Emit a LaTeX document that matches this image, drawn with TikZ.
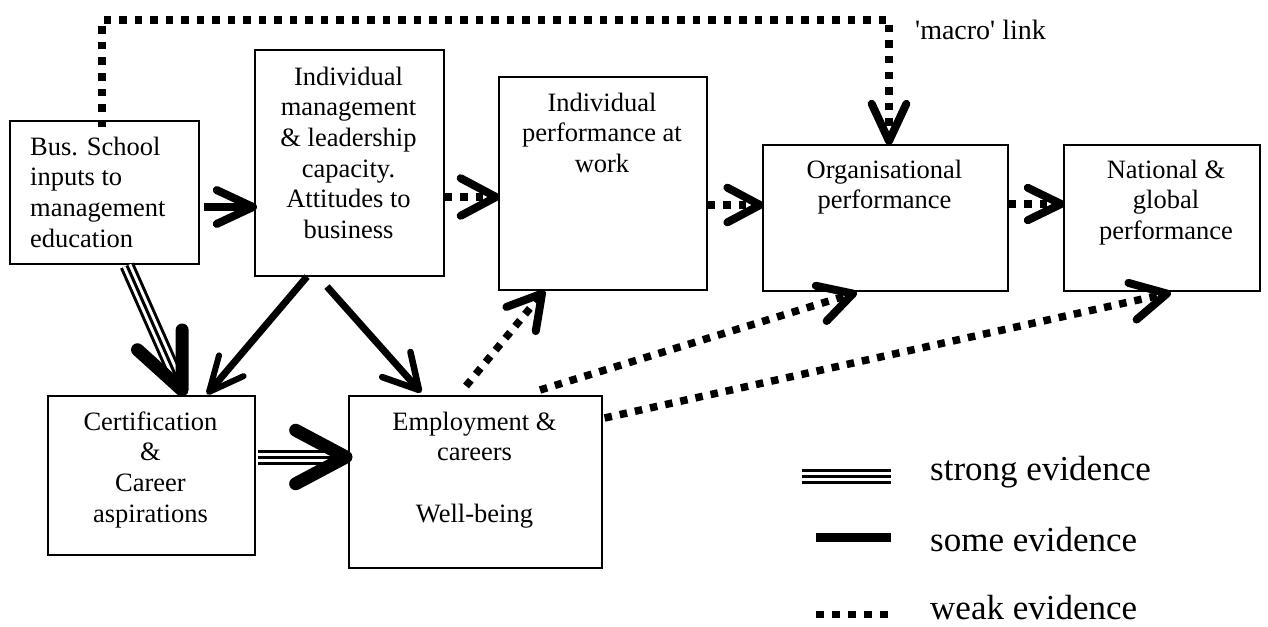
\documentclass[tikz,border=0pt]{standalone}
\usepackage{fontspec}
\setmainfont{Liberation Serif}
\usetikzlibrary{calc}

\newcommand{\boxfont}{\fontsize{26.5}{30.7}\selectfont}
\newcommand{\legfont}{\fontsize{35}{40}\selectfont}
\newcommand{\notefont}{\fontsize{28}{32}\selectfont}

% open V arrowhead: tip, point it comes from, arm length, half angle, stroke
\newcommand{\vhead}[5]{%
  \draw[line width=#5, line cap=round, line join=round]
    ($(#1)!#3!#4:(#2)$) -- (#1) -- ($(#1)!#3!-#4:(#2)$);}

% strong evidence: three parallel lines
\newcommand{\triple}[2]{%
  \draw[line width=15pt] (#1) -- (#2);
  \draw[white, line width=9pt] (#1) -- (#2);
  \draw[line width=3pt] (#1) -- (#2);}

\tikzset{
  box/.style={draw, line width=1.6pt, rectangle, inner sep=0pt, anchor=north west},
  boxtext/.style={font=\boxfont, align=center, inner sep=0pt, anchor=north},
  legtext/.style={font=\legfont, inner sep=0pt, anchor=base west},
  weak/.style={line width=7.5pt, dash pattern=on 7.5pt off 8pt},
  some/.style={line width=8pt},
  somethin/.style={line width=7pt},
}

\begin{document}
\begin{tikzpicture}[x=1pt, y=-1pt]
\useasboundingbox (0,0) rectangle (1268,626);

% boxes
\node[box, minimum width=189pt, minimum height=143pt] (A) at (9,120) {};
\node[box, minimum width=189pt, minimum height=226pt] (B) at (254,49) {};
\node[box, minimum width=208pt, minimum height=213pt] (C) at (498,76) {};
\node[box, minimum width=245pt, minimum height=146pt] (D) at (762,144) {};
\node[box, minimum width=196pt, minimum height=146pt] (E) at (1063,144) {};
\node[box, minimum width=207pt, minimum height=159pt] (F) at (47,395) {};
\node[box, minimum width=253pt, minimum height=172pt] (G) at (348,395) {};

% box texts
\node[boxtext, align=left, anchor=north west] (At) at (30,133.5)
  {\strut Bus. School\\inputs to\\management\\education};
\node[boxtext] (Bt) at (348.5,63.5)
  {\strut Individual\\management\\\& leadership\\capacity.\\Attitudes to\\business};
\node[boxtext] (Ct) at (602,89.5)
  {\strut Individual\\performance at\\work};
\node[boxtext] (Dt) at (884.5,156.5)
  {\strut Organisational\\performance};
\node[boxtext] (Et) at (1166,156.5)
  {\strut National \&\\global\\performance};
\node[boxtext] (Ft) at (150.5,408.5)
  {\strut Certification\\\&\\Career\\aspirations};
\node[boxtext] (Gt) at (474.5,408.5)
  {\strut Employment \&\\careers\\\mbox{}\\Well-being};

% connector end points
\coordinate (ab0) at ($(A.north east)+(4,87)$);
\coordinate (ab1) at ($(B.north west)+(-1,158)$);
\coordinate (bc0) at ($(B.north east)+(0,148)$);
\coordinate (bc1) at ($(C.north west)+(-2,121)$);
\coordinate (cd0) at ($(C.north east)+(0,129)$);
\coordinate (cd1) at ($(D.north west)+(-2,61)$);
\coordinate (de0) at ($(D.north east)+(0,60)$);
\coordinate (de1) at ($(E.north west)+(-2,60)$);
\coordinate (m0) at ($(A.north west)+(93,7)$);
\coordinate (mc) at ($(D.north west)+(127,-124)$);
\coordinate (m1) at ($(D.north west)+(127,-3)$);
\coordinate (af0) at ($(A.south west)+(118,1)$);
\coordinate (af1) at ($(F.north west)+(135,-5)$);
\coordinate (fg0) at ($(F.north east)+(2,62)$);
\coordinate (fg1) at ($(G.north west)+(-2,62)$);
\coordinate (bf0) at ($(B.south west)+(53,0)$);
\coordinate (bf1) at ($(F.north west)+(162,-3)$);
\coordinate (bg0) at ($(B.south west)+(73,10)$);
\coordinate (bg1) at ($(G.north west)+(71,-5)$);
\coordinate (gc0) at ($(G.north west)+(118,-9)$);
\coordinate (gc1) at ($(C.south west)+(44,3)$);
\coordinate (gd0) at ($(G.north west)+(192,-5)$);
\coordinate (gd1) at ($(D.south west)+(91,2)$);
\coordinate (ge0) at ($(G.north east)+(2,23)$);
\coordinate (ge1) at ($(E.south west)+(104,2)$);

% some evidence
\draw[some] (ab0) -- (ab1);
\vhead{ab1}{ab0}{40pt}{25}{8pt}
\draw[somethin] (bf0) -- (bf1);
\vhead{bf1}{bf0}{38pt}{25}{6pt}
\draw[somethin] (bg0) -- (bg1);
\vhead{bg1}{bg0}{39pt}{29}{6.5pt}

% strong evidence
\triple{af0}{$(af1)!12pt!(af0)$}
\vhead{af1}{af0}{60pt}{24}{13pt}
\triple{fg0}{$(fg1)!12pt!(fg0)$}
\vhead{fg1}{fg0}{57pt}{28}{13pt}

% weak evidence
\draw[weak] (bc0) -- (bc1);
\vhead{bc1}{bc0}{40pt}{28}{8pt}
\draw[weak] (cd0) -- (cd1);
\vhead{cd1}{cd0}{37pt}{28}{8pt}
\draw[weak] (de0) -- (de1);
\vhead{de1}{de0}{37pt}{26}{8pt}
\draw[weak] (m0) |- (mc) -- (m1);
\vhead{m1}{mc}{41pt}{25}{8pt}
\draw[weak] (gc0) -- (gc1);
\vhead{gc1}{gc0}{38pt}{30}{8pt}
\draw[weak] (gd0) -- (gd1);
\vhead{gd1}{gd0}{38pt}{29}{8pt}
\draw[weak] (ge0) -- (ge1);
\vhead{ge1}{ge0}{40pt}{28}{8pt}

\node[font=\notefont, inner sep=0pt, anchor=base west] (macro) at (915,40)
  {\textquotesingle macro\textquotesingle{} link};

% legend
\triple{802,476}{891,476}
\draw[line width=9pt] (816,537) -- (891,537);
\draw[line width=7pt, dash pattern=on 8pt off 8pt] (816,614) -- (889,614);
\node[legtext] (ls) at (930,480) {strong evidence};
\node[legtext] (lm) at (930,551) {some evidence};
\node[legtext] (lw) at (930,619) {weak evidence};
\end{tikzpicture}
\end{document}
